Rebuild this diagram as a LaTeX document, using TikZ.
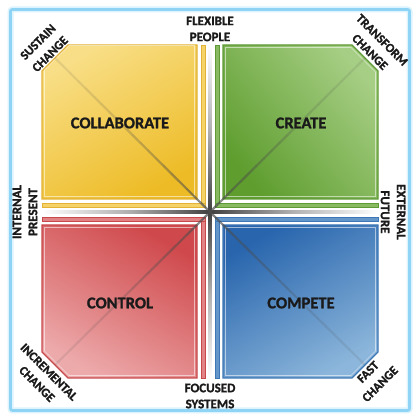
\documentclass[tikz,border=0pt]{standalone}
\usepackage{fontspec}
\setmainfont{Carlito}[BoldFeatures={FakeBold=1.3}]
\usetikzlibrary{calc}
\definecolor{frameblue}{HTML}{8FD4F4}
\definecolor{frameglow}{HTML}{DDF3FD}
\definecolor{ylight}{HTML}{F8DE86}
\definecolor{ydark}{HTML}{EDBB25}
\definecolor{yline}{HTML}{E2B336}
\definecolor{glight}{HTML}{A6CE84}
\definecolor{gdark}{HTML}{5E9D2E}
\definecolor{gline}{HTML}{5E9A35}
\definecolor{rlight}{HTML}{EDAAAB}
\definecolor{rdark}{HTML}{CF484B}
\definecolor{rline}{HTML}{C8494C}
\definecolor{blight}{HTML}{8CB6DB}
\definecolor{bdark}{HTML}{2865AD}
\definecolor{bline}{HTML}{3E77B5}
\definecolor{txt}{HTML}{1A1A1A}
\begin{document}
\begin{tikzpicture}[x=1pt,y=1pt,
  quad/.style={line width=1.1pt, shading=axis},
  inner/.style={draw=white, draw opacity=0.55, line width=0.6pt},
  qlabel/.style={font=\bfseries\fontsize{16.5}{18}\selectfont, text=txt, inner sep=0},
  slabel/.style={font=\bfseries\fontsize{13}{16}\selectfont, text=txt, align=center, inner sep=0},
  clabel/.style={font=\bfseries\fontsize{12.5}{17}\selectfont, text=txt, align=center, inner sep=0},
]
\useasboundingbox (0,0) rectangle (420,420);
\fill[white] (0,0) rectangle (420,420);
% frame
\draw[frameglow, line width=6pt, rounded corners=2pt] (10.5,9.5) rectangle (409.5,410.5);
\draw[frameblue, line width=2.8pt, rounded corners=2pt] (10.5,9.5) rectangle (409.5,410.5);

% quadrants
\path[quad, draw=yline, top color=ylight, bottom color=ydark, shading angle=30]
  (42,349) -- (68,375) -- (197,375) -- (197,221) -- (42,221) -- cycle;
\draw[inner] (44.5,350) -- (69,374.5) -- (194.5,374.5) -- (194.5,223.5) -- (44.5,223.5) -- cycle;
\path[quad, draw=gline, top color=glight, bottom color=gdark, shading angle=-50]
  (223,375) -- (352,375) -- (378,349) -- (378,221) -- (223,221) -- cycle;
\draw[inner] (225.5,372.5) -- (351,372.5) -- (375.5,348) -- (375.5,223.5) -- (225.5,223.5) -- cycle;
\path[quad, draw=rline, top color=rdark, bottom color=rlight, shading angle=-30]
  (42,195) -- (197,195) -- (197,42) -- (68,42) -- (42,68) -- cycle;
\draw[inner] (44.5,192.5) -- (194.5,192.5) -- (194.5,44.5) -- (69,44.5) -- (44.5,69) -- cycle;
\path[quad, draw=bline, top color=bdark, bottom color=blight, shading angle=30]
  (223,195) -- (378,195) -- (378,68) -- (352,42) -- (223,42) -- cycle;
\draw[inner] (225.5,192.5) -- (375.5,192.5) -- (375.5,69) -- (351,44.5) -- (225.5,44.5) -- cycle;

% strips
\path[draw=yline, fill=ylight!70!ydark, line width=0.6pt] (201,213) rectangle (205,375);
\path[draw=yline, fill=ylight!70!ydark, line width=0.6pt] (42,213) rectangle (205,217);
\path[draw=gline, fill=glight!60!gdark, line width=0.6pt] (215,213) rectangle (219,375);
\path[draw=gline, fill=glight!60!gdark, line width=0.6pt] (215,213) rectangle (378,217);
\path[draw=rline, fill=rlight!60!rdark, line width=0.6pt] (201,42) rectangle (205,203);
\path[draw=rline, fill=rlight!60!rdark, line width=0.6pt] (42,199) rectangle (205,203);
\path[draw=bline, fill=blight!60!bdark, line width=0.6pt] (215,42) rectangle (219,203);
\path[draw=bline, fill=blight!60!bdark, line width=0.6pt] (215,199) rectangle (378,203);

% centre lines
\shade[left color=white, right color=black!75, middle color=black!30] (42,206.5) rectangle (210,209.5);
\shade[left color=black!75, right color=white, middle color=black!30] (210,206.5) rectangle (378,209.5);
\shade[bottom color=white, top color=black!75, middle color=black!30] (208.5,42) rectangle (211.5,208);
\shade[top color=white, bottom color=black!75, middle color=black!30] (208.5,208) rectangle (211.5,375);

% diagonals
\coordinate (c) at (210,208);
\coordinate (d1) at (55,362);
\coordinate (d2) at (365,362);
\coordinate (d3) at (55,55);
\coordinate (d4) at (365,55);
\foreach \d in {d1,d2,d3,d4}{
  \foreach \i in {0,...,19}{
    \pgfmathsetmacro\op{0.12+0.0016*\i*\i}
    \pgfmathsetmacro\aa{\i/20}
    \pgfmathsetmacro\bb{(\i+1)/20}
    \draw[black!70, line width=2.2pt, draw opacity=\op]
      ($(\d)!\aa!(c)$) -- ($(\d)!\bb!(c)$);
  }
}

% labels
\node[qlabel] (collab) at (120,297) {COLLABORATE};
\node[qlabel] (create) at (301,297) {CREATE};
\node[qlabel] (control) at (120,117) {CONTROL};
\node[qlabel] (compete) at (301,117) {COMPETE};

\node[slabel] (top) at (210,391) {FLEXIBLE\\PEOPLE};
\node[slabel] (bottom) at (210,24) {FOCUSED\\SYSTEMS};
\node[slabel, rotate=90] (left) at (25,208) {INTERNAL\\PRESENT};
\node[slabel, rotate=-90] (right) at (393,208) {EXTERNAL\\FUTURE};

\node[clabel, rotate=45] (tl) at (44,372) {SUSTAIN\\CHANGE};
\node[clabel, rotate=-45] (tr) at (376,374) {TRANSFORM\\CHANGE};
\node[clabel, rotate=-45] (bl) at (43,42) {INCREMENTAL\\CHANGE};
\node[clabel, rotate=45] (br) at (374,42) {FAST\\CHANGE};
\end{tikzpicture}
\end{document}
